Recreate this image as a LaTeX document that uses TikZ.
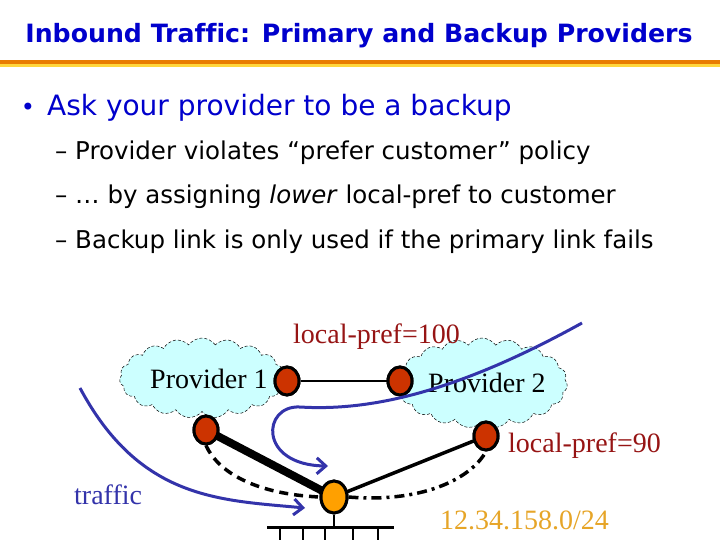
\documentclass[tikz,border=0pt]{standalone}
\usepackage{fontspec}
\setmainfont{Liberation Serif}[Ligatures=NoCommon]
\newfontfamily\tah{DejaVu Sans}[Ligatures=NoCommon]
\usetikzlibrary{shapes.geometric,shapes.symbols,arrows.meta}
\definecolor{titleblue}{RGB}{0,0,204}
\definecolor{ruleorange}{RGB}{232,124,0}
\definecolor{ruleyellow}{RGB}{255,214,60}
\definecolor{cloudcyan}{RGB}{204,255,255}
\definecolor{routerred}{RGB}{204,51,0}
\definecolor{custorange}{RGB}{255,160,0}
\definecolor{prefred}{RGB}{150,20,20}
\definecolor{trafblue}{RGB}{51,51,170}
\definecolor{ipgold}{RGB}{230,165,40}
\tikzset{
  cloudbox/.style={cloud, cloud puffs=19, cloud puff arc=110, draw=black, line width=0.5pt, densely dashed, fill=cloudcyan, inner sep=0pt},
  router/.style={ellipse, draw=black, line width=3pt, fill=routerred, minimum width=24pt, minimum height=28pt, inner sep=0pt},
  custnode/.style={ellipse, draw=black, line width=3pt, fill=custorange, minimum width=26pt, minimum height=32pt, inner sep=0pt},
  lbl/.style={font=\fontsize{28}{30}\selectfont, inner sep=0pt, anchor=base west},
  flow/.style={draw=trafblue, line width=3pt, -{Straight Barb[length=9pt,width=16pt,line width=3pt]}},
  bodytext/.style={font=\tah\fontsize{24.5}{28}\selectfont, inner sep=0pt, anchor=base west}
}
\begin{document}
\begin{tikzpicture}[x=1pt,y=-1pt]
\useasboundingbox (0,0) rectangle (720,540);
% title
\node[font=\tah\bfseries\fontsize{25.2}{28}\selectfont, text=titleblue, inner sep=0pt, anchor=base] (title) at (359,43) {Inbound Traffic: Primary and Backup Providers};
\fill[ruleorange] (0,60) rectangle (720,64);
\fill[ruleyellow] (0,64) rectangle (720,67.5);
% bullets
\node[font=\tah\fontsize{24}{30}\selectfont, text=titleblue, inner sep=0pt, anchor=base] (dot) at (28,116) {•};
\node[font=\tah\fontsize{28}{30}\selectfont, text=titleblue, inner sep=0pt, anchor=base west] (b1) at (47,116) {Ask your provider to be a backup};
\node[bodytext] (s1) at (55,160) {– Provider violates “prefer customer” policy};
\node[bodytext] (s2) at (55,204) {– … by assigning \emph{lower} local-pref to customer};
\node[bodytext] (s3) at (55,248) {– Backup link is only used if the primary link fails};
% clouds
\node[cloudbox, minimum width=165pt, minimum height=80pt] (c1) at (202,378) {};
\node[cloudbox, minimum width=171pt, minimum height=90pt] (c2) at (482,383) {};
\node[lbl] (p1) at (150,388) {Provider 1};
\node[lbl] (p2) at (428,392) {Provider 2};
% routers
\node[router] (r1a) at (287,381) {};
\node[router] (r2a) at (400,381) {};
\node[router] (r1b) at (206,430) {};
\node[router] (r2b) at (486,436) {};
\node[custnode] (cu) at (334,497) {};
% links
\draw[line width=2.5pt] (r1a) -- (r2a);
\draw[line width=8pt] (r1b.center) -- (cu.center);
\draw[line width=3.5pt] (cu.center) -- (r2b.center);
\draw[line width=3.5pt, dash pattern=on 9pt off 6pt] (r1b.south) .. controls (218,472) and (255,494) .. (cu.west);
\draw[line width=3.5pt, dash pattern=on 10pt off 5pt on 3pt off 5pt] (cu.east) .. controls (420,503) and (470,480) .. (r2b.south);
% redraw nodes on top of links
\node[router] at (r1b) {};
\node[router] at (r2b) {};
\node[custnode] at (cu) {};
\node[router] at (r1a) {};
\node[router] at (r2a) {};
% customer LAN
\coordinate (busL) at (267,527);
\coordinate (busR) at (394,527);
\coordinate (busM) at (334,527);
\draw[line width=2.5pt] (cu.south) -- (busM);
\draw[line width=3pt] (busL) -- (busR);
\foreach \tx in {280,303,325,353,378} \draw[line width=2.5pt] (\tx,527) -- (\tx,541);
% traffic flows
\coordinate (t1s) at (80,388);
\coordinate (t1e) at (305,508);
\draw[flow] (t1s) .. controls (140,500) and (220,500) .. (t1e);
\coordinate (t2s) at (582,323);
\coordinate (t2e) at (328,466);
\draw[flow] (t2s) .. controls (470,385) and (380,412) .. (300,407) .. controls (262,405) and (258,465) .. (t2e);
% labels
\node[lbl, text=prefred] (lp100) at (293,343) {local-pref=100};
\node[lbl, text=prefred] (lp90) at (508,452) {local-pref=90};
\node[lbl, text=trafblue] (tr) at (74,504) {traffic};
\node[lbl, text=ipgold] (ip) at (440,529) {12.34.158.0/24};
\end{tikzpicture}
\end{document}
